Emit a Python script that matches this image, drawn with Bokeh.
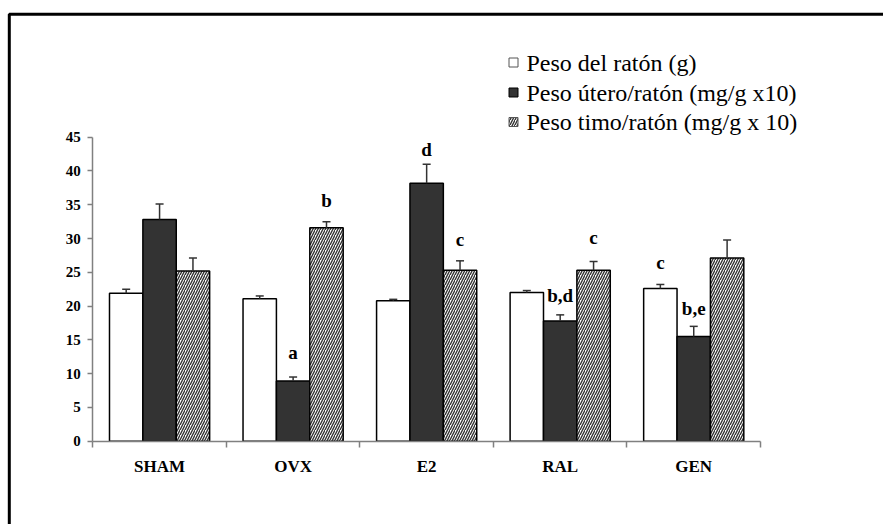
from bokeh.plotting import figure
from bokeh.models import (Range1d, FixedTicker, BoxAnnotation,
                          ColumnDataSource, LinearAxis)
from bokeh.core.properties import value
from bokeh.embed import file_html
from bokeh.resources import INLINE

groups = ["SHAM", "OVX", "E2", "RAL", "GEN"]
series_names = ["Peso del ratón (g)", "Peso útero/ratón (mg/g x10)", "Peso timo/ratón (mg/g x 10)"]

peso_raton = [21.9, 21.1, 20.8, 22.0, 22.6]
peso_raton_err = [0.6, 0.4, 0.2, 0.3, 0.6]
peso_utero = [32.8, 8.9, 38.2, 17.8, 15.5]
peso_utero_err = [2.3, 0.6, 2.8, 0.9, 1.5]
peso_timo = [25.2, 31.6, 25.3, 25.3, 27.1]
peso_timo_err = [1.9, 0.9, 1.4, 1.3, 2.7]

# significance letters: (group index, series index, text, baseline height)
letter_group = [1, 1, 2, 2, 3, 3, 4, 4]
letter_series = [1, 2, 1, 2, 1, 2, 0, 1]
letter_text = ["a", "b", "d", "c", "b,d", "c", "c", "b,e"]
letter_y = [13.2, 35.6, 43.2, 29.8, 21.6, 30.2, 26.4, 19.65]

y_ticks = [0, 5, 10, 15, 20, 25, 30, 35, 40, 45]
Y_MAX = 45

# page geometry (pixels)
W, H = 883, 524
AX_LEFT, AX_RIGHT, AX_TOP, AX_BOTTOM = 92.3, 760.0, 136.7, 440.7
LEG_BOX_X, LEG_TEXT_X = 513, 526
LEG_ROWS_Y = [62, 92, 121.5]

SERIF = "Liberation Serif"
BAR_W = 0.25
offsets = [-BAR_W, 0.0, BAR_W]

n = len(groups)
ppx = (AX_RIGHT - AX_LEFT) / n
ppy = (AX_BOTTOM - AX_TOP) / Y_MAX
x_range = Range1d(-AX_LEFT / ppx, (W - AX_LEFT) / ppx)
y_range = Range1d(-(H - AX_BOTTOM) / ppy, AX_BOTTOM / ppy)


def px_x(px):
    return (px - AX_LEFT) / ppx


def px_y(py):
    return (AX_BOTTOM - py) / ppy


p = figure(width=W, height=H, output_backend="svg", toolbar_location=None,
           x_range=x_range, y_range=y_range,
           x_axis_location=None, y_axis_location=None,
           min_border=0)
p.grid.visible = False
p.outline_line_color = None
p.background_fill_color = "white"
p.border_fill_color = "white"

values = [peso_raton, peso_utero, peso_timo]
errors = [peso_raton_err, peso_utero_err, peso_timo_err]
styles = [
    dict(fill_color="white"),
    dict(fill_color="#333333"),
    dict(fill_color="white", hatch_pattern="/", hatch_color="#333333",
         hatch_scale=5, hatch_weight=1.4),
]
legend_line = ["#555555", "black", "#555555"]

for s in range(3):
    xs = [i + 0.5 + offsets[s] for i in range(n)]
    src = ColumnDataSource(dict(x=xs, top=values[s]))
    p.vbar(x="x", top="top", bottom=0, width=BAR_W, source=src,
           line_color="black", line_width=1.5, **styles[s])
    ups = [v + e for v, e in zip(values[s], errors[s])]
    p.segment(x0=xs, y0=values[s], x1=xs, y1=ups, line_color="#333333", line_width=1.5)
    p.segment(x0=[x - 0.03 for x in xs], y0=ups, x1=[x + 0.03 for x in xs], y1=ups,
              line_color="#333333", line_width=1.5)

    # legend entry
    p.rect(x=[px_x(LEG_BOX_X)], y=[px_y(LEG_ROWS_Y[s])], width=9, height=9,
           width_units="screen", height_units="screen",
           line_color=legend_line[s], line_width=1, **styles[s])

p.text(x=[px_x(LEG_TEXT_X)] * 3, y=[px_y(v) for v in LEG_ROWS_Y], text=series_names,
       text_font=value(SERIF), text_font_size="24px", text_align="left",
       text_baseline="middle", text_color="black")

lx = [g + 0.5 + offsets[s] for g, s in zip(letter_group, letter_series)]
p.text(x=lx, y=letter_y, text=letter_text, text_font=value(SERIF),
       text_font_style="bold", text_font_size="19px", text_align="center",
       text_baseline="alphabetic", text_color="black")

# axes
yax = LinearAxis(fixed_location=0, bounds=(0, Y_MAX))
yax.ticker = FixedTicker(ticks=y_ticks, minor_ticks=[])
yax.axis_line_color = "#808080"
yax.axis_line_width = 1.5
yax.major_tick_line_color = "#808080"
yax.major_tick_line_width = 1.5
yax.major_tick_out = 5
yax.major_tick_in = 0
yax.minor_tick_line_color = None
yax.major_label_text_font = SERIF
yax.major_label_text_font_style = "bold"
yax.major_label_text_font_size = "15px"
yax.major_label_text_color = "black"
yax.major_label_standoff = 7
p.add_layout(yax, "left")

xax = LinearAxis(fixed_location=0, bounds=(0, n))
xax.ticker = FixedTicker(ticks=[i + 0.5 for i in range(n)],
                         minor_ticks=list(range(n + 1)))
xax.major_label_overrides = {i + 0.5: g for i, g in enumerate(groups)}
xax.axis_line_color = "#808080"
xax.axis_line_width = 1.5
xax.major_tick_line_color = None
xax.major_tick_out = 0
xax.major_tick_in = 0
xax.minor_tick_line_color = "#808080"
xax.minor_tick_line_width = 1.5
xax.minor_tick_out = 6
xax.minor_tick_in = 0
xax.major_label_text_font = SERIF
xax.major_label_text_font_style = "bold"
xax.major_label_text_font_size = "17px"
xax.major_label_text_color = "black"
xax.major_label_standoff = 10
p.add_layout(xax, "below")

frame_box = BoxAnnotation(left=8.8, right=W + 20, top=13.8, bottom=H + 20,
                          left_units="canvas", right_units="canvas",
                          top_units="canvas", bottom_units="canvas",
                          fill_alpha=0, line_color="black", line_alpha=1.0,
                          line_width=3)
p.add_layout(frame_box)

open("out.html", "w").write(file_html(p, INLINE))
